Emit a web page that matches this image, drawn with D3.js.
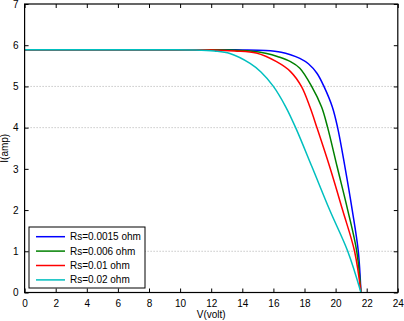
<!DOCTYPE html>
<html><head><meta charset="utf-8">
<script src="https://cdn.jsdelivr.net/npm/d3@7"></script>
<style>body{margin:0;background:#fff}svg{display:block}text{font-family:"Liberation Sans",Arial,sans-serif}</style>
</head><body><svg id="c" width="404" height="321"></svg>
<script>
const xTicks = [0,2,4,6,8,10,12,14,16,18,20,22,24];
const yTicks = [0,1,2,3,4,5,6,7];
const gridY = [1,4,5];
const seriesNames = ["Rs=0.0015 ohm","Rs=0.006 ohm","Rs=0.01 ohm","Rs=0.02 ohm"];
const colors = ["#0000ff","#008000","#ff0000","#00bfbf"];
const vBlue = [0,12,14,15.5,16.5,17.1,17.7,18.25,18.8,19.25,19.79,20.13,20.6,21.07,21.46,21.63];
const iBlue = [5.89,5.89,5.885,5.87,5.83,5.77,5.68,5.55,5.32,5.0,4.5,4.0,3.05,2.0,1.0,0];
const vGreen = [0,11,13,14.5,15.57,16.3,17.1,17.7,18.46,19.1,19.49,20.1,20.78,21.36,21.63];
const iGreen = [5.89,5.89,5.885,5.86,5.8,5.72,5.6,5.44,5.0,4.5,4.0,3.05,2.0,1.0,0];
const vRed = [0,10,12,13.5,14.9,16.2,17.1,17.8,18.35,18.8,19.62,20.45,21.22,21.63];
const iRed = [5.89,5.89,5.885,5.86,5.81,5.6,5.36,5.0,4.5,4.0,3.05,2.0,1.0,0];
const vCyan = [0,9,11,12.2,13.2,14.5,15.2,16.0,16.8,17.43,18.48,19.62,20.78,21.63];
const iCyan = [5.89,5.89,5.885,5.86,5.8,5.56,5.35,5.0,4.5,4.0,3.05,2.0,1.0,0];

const series = [[vBlue,iBlue],[vGreen,iGreen],[vRed,iRed],[vCyan,iCyan]];
const L=24.6, R=397.8, T=4, B=292.5;
const x = d3.scaleLinear().domain([0,24]).range([L,R]);
const y = d3.scaleLinear().domain([0,7]).range([B,T]);
const svg = d3.select("#c");

// grid
svg.append("g").selectAll("line").data(gridY).join("line")
  .attr("x1",L).attr("x2",R).attr("y1",d=>y(d)).attr("y2",d=>y(d))
  .attr("stroke","#999").attr("stroke-width",0.8).attr("stroke-dasharray","1,2");

// curves
const line = d3.line().x(d=>x(d[0])).y(d=>y(d[1])).curve(d3.curveCatmullRom.alpha(0.5));
series.forEach((s,k)=>{
  const pts = s[0].map((v,i)=>[v,s[1][i]]);
  svg.append("path").datum(pts).attr("d",line).attr("fill","none")
    .attr("stroke",colors[k]).attr("stroke-width",1.5);
});

// axes
const fs = 10;
const ax = svg.append("g").attr("transform",`translate(0,${B})`)
  .call(d3.axisBottom(x).tickValues(xTicks).tickSize(-4).tickPadding(7).tickFormat(d3.format("d")));
const at = svg.append("g").attr("transform",`translate(0,${T})`)
  .call(d3.axisTop(x).tickValues(xTicks).tickSize(-4).tickFormat(""));
const ay = svg.append("g").attr("transform",`translate(${L},0)`)
  .call(d3.axisLeft(y).tickValues(yTicks).tickSize(-4).tickPadding(6).tickFormat(d3.format("d")));
const ar = svg.append("g").attr("transform",`translate(${R},0)`)
  .call(d3.axisRight(y).tickValues(yTicks).tickSize(-4).tickFormat(""));
[ax,at,ay,ar].forEach(g=>{
  g.selectAll(".domain").remove();
  g.selectAll("line").attr("stroke","#000").attr("stroke-width",1);
  g.selectAll("text").attr("font-size",fs).attr("fill","#000").attr("font-family","Liberation Sans, Arial, sans-serif");
});
svg.append("rect").attr("x",L).attr("y",T).attr("width",R-L).attr("height",B-T)
  .attr("fill","none").attr("stroke","#000").attr("stroke-width",1.2);

// labels
svg.append("text").attr("x",(L+R)/2).attr("y",318).attr("text-anchor","middle")
  .attr("font-size",fs).text("V(volt)");
svg.append("text").attr("transform",`translate(8,${(T+B)/2}) rotate(-90)`).attr("text-anchor","middle")
  .attr("font-size",fs).text("I(amp)");

// legend
const lg = svg.append("g");
lg.append("rect").attr("x",29).attr("y",227).attr("width",116).attr("height",61)
  .attr("fill","#fff").attr("stroke","#000").attr("stroke-width",1);
seriesNames.forEach((n,k)=>{
  const yy = 236.7 + k*14.4;
  lg.append("line").attr("x1",36).attr("x2",65).attr("y1",yy).attr("y2",yy)
    .attr("stroke",colors[k]).attr("stroke-width",1.5);
  lg.append("text").attr("x",70).attr("y",yy+3.5).attr("font-size",fs).text(n);
});
</script></body></html>
